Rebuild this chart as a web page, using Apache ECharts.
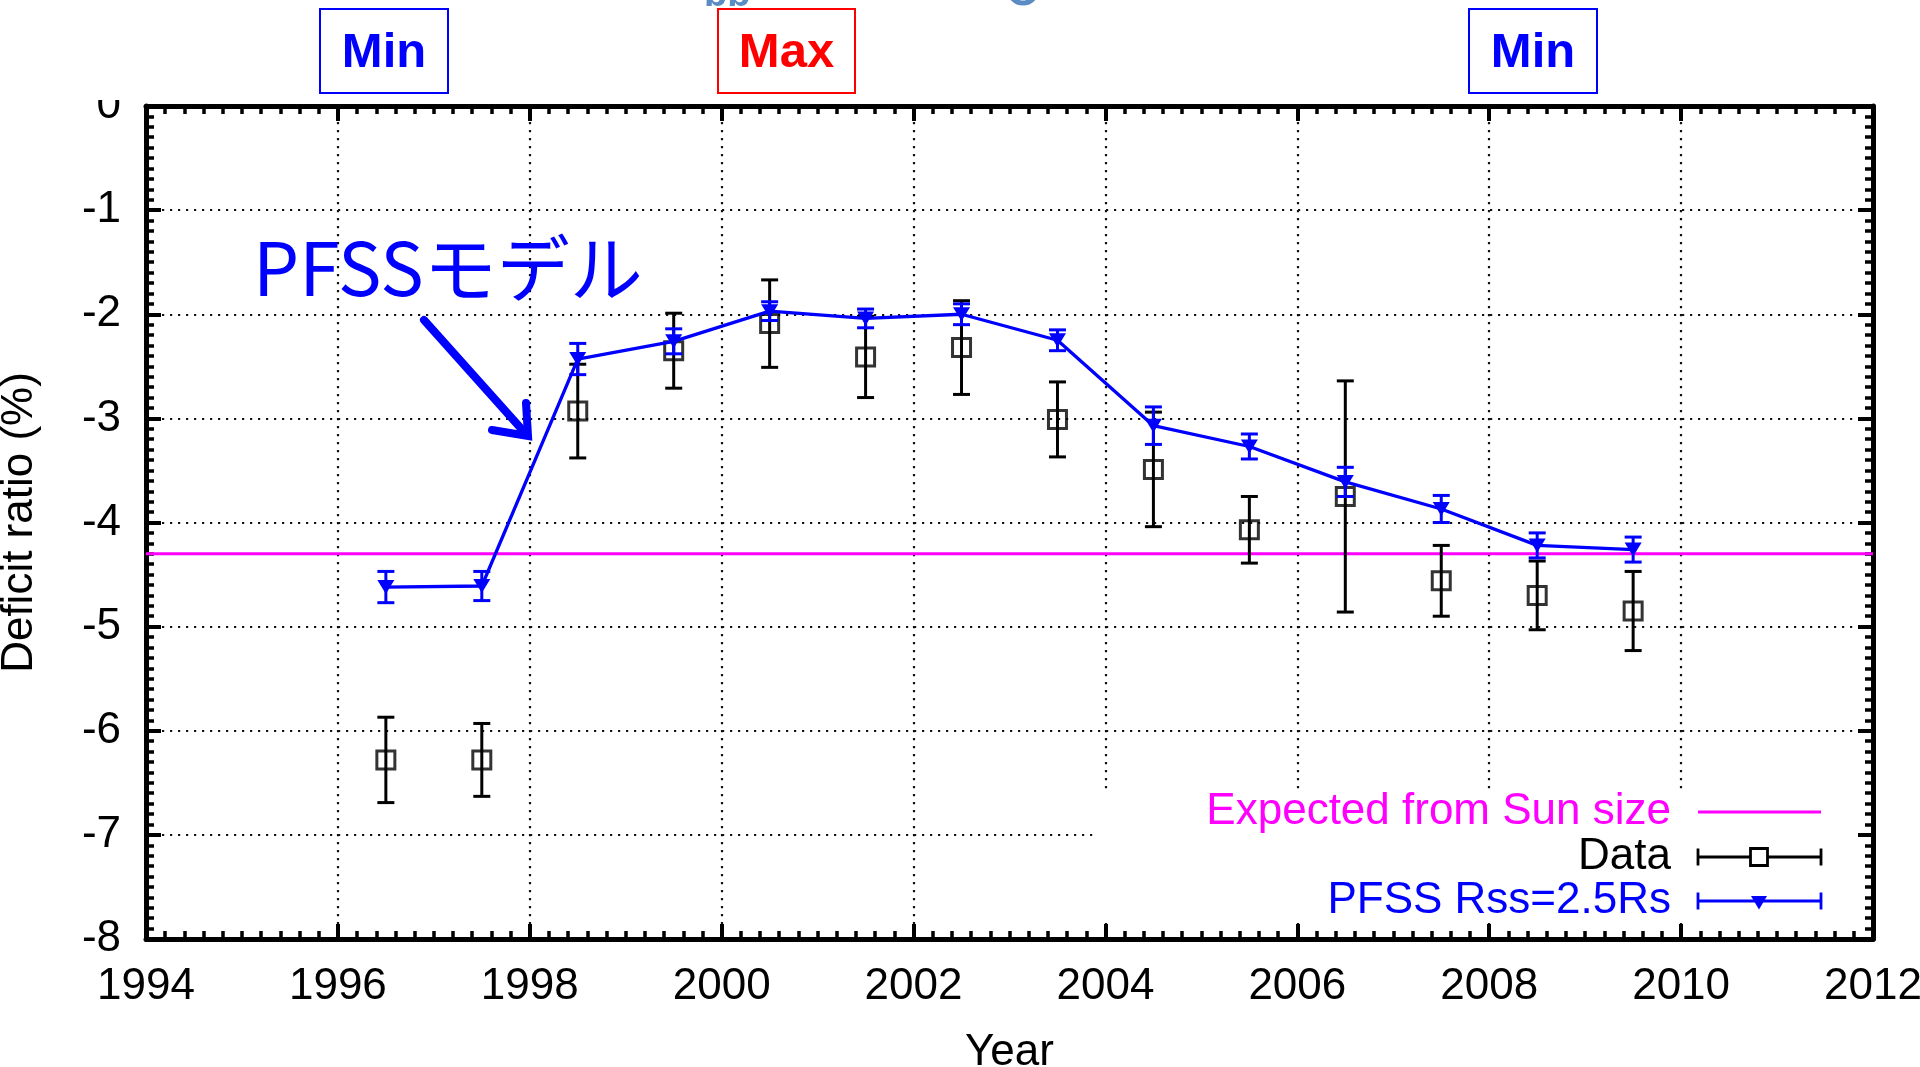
<!DOCTYPE html>
<html>
<head>
<meta charset="utf-8">
<script src="https://cdn.jsdelivr.net/npm/echarts@6/dist/echarts.min.js"></script>
<style>
  html, body { margin: 0; padding: 0; background: #ffffff; }
  #chart { width: 1920px; height: 1067px; }
</style>
</head>
<body>
<div id="chart"></div>
<script>
// Observation years (mid-year bins)
const years = [1996.5, 1997.5, 1998.5, 1999.5, 2000.5, 2001.5, 2002.5,
               2003.5, 2004.5, 2005.5, 2006.5, 2007.5, 2008.5, 2009.5];

// Measured deficit ratio (%) and its 1-sigma error
const dataValues = [-6.28, -6.28, -2.93, -2.35, -2.09, -2.41, -2.32,
                    -3.01, -3.49, -4.07, -3.75, -4.56, -4.70, -4.85];
const dataErrors = [0.41, 0.35, 0.45, 0.36, 0.42, 0.39, 0.45,
                    0.36, 0.55, 0.32, 1.11, 0.34, 0.33, 0.38];

// PFSS model prediction (source surface at 2.5 Rs)
const pfssValues = [-4.62, -4.61, -2.43, -2.26, -1.97, -2.04, -2.00,
                    -2.25, -3.07, -3.27, -3.61, -3.87, -4.22, -4.26];
const pfssErrors = [0.15, 0.14, 0.15, 0.12, 0.09, 0.09, 0.10,
                    0.10, 0.18, 0.12, 0.14, 0.13, 0.12, 0.12];

// Level expected from the geometric size of the Sun
const expectedLevel = -4.3;

// Axis ranges
const yearRange = [1994, 2012];
const ratioRange = [-8, 0];

const BLUE = '#0000ff';
const MAGENTA = '#ff00ff';
const BLACK = '#000000';
const FONT = '"Liberation Sans", Arial, Helvetica, sans-serif';

// Vertical error bar with end caps, placed through the axes
function errorBarRenderer(color, capHalf, width) {
  return function (params, api) {
    const x = api.value(0);
    const lo = api.coord([x, api.value(1)]);
    const hi = api.coord([x, api.value(2)]);
    const style = { stroke: color, lineWidth: width, fill: null };
    return {
      type: 'group',
      children: [
        { type: 'line', shape: { x1: lo[0], y1: lo[1], x2: hi[0], y2: hi[1] }, style: style },
        { type: 'line', shape: { x1: lo[0] - capHalf, y1: lo[1], x2: lo[0] + capHalf, y2: lo[1] }, style: style },
        { type: 'line', shape: { x1: hi[0] - capHalf, y1: hi[1], x2: hi[0] + capHalf, y2: hi[1] }, style: style }
      ]
    };
  };
}

const dataPoints = years.map((y, i) => [y, dataValues[i]]);
const dataBars = years.map((y, i) => [y, dataValues[i] - dataErrors[i], dataValues[i] + dataErrors[i]]);
const pfssPoints = years.map((y, i) => [y, pfssValues[i]]);
const pfssBars = years.map((y, i) => [y, pfssValues[i] - pfssErrors[i], pfssValues[i] + pfssErrors[i]]);

const frameLine = { show: true, onZero: false, lineStyle: { color: BLACK, width: 5 } };
const majorTick = { show: true, inside: true, length: 15, lineStyle: { color: BLACK, width: 4 } };
const minorTick = { show: true, splitNumber: 10, length: 8, lineStyle: { color: BLACK, width: 3.5 } };
const gridDots = { show: true, lineStyle: { color: '#111111', width: 2.2, type: [2.2, 5.8] } };

const chart = echarts.init(document.getElementById('chart'), null, { renderer: 'canvas' });

// Legend rows: sample drawn to the right of right-aligned text
function legendSample(y, color, marker) {
  const x1 = 1698, x2 = 1821, cap = 8.5;
  const st = { stroke: color, lineWidth: 2.8, fill: null };
  const els = [{ type: 'line', shape: { x1: x1, y1: y, x2: x2, y2: y }, style: st, z: 3 }];
  if (marker) {
    els.push({ type: 'line', shape: { x1: x1, y1: y - cap, x2: x1, y2: y + cap }, style: st, z: 3 });
    els.push({ type: 'line', shape: { x1: x2, y1: y - cap, x2: x2, y2: y + cap }, style: st, z: 3 });
    const cx = 1759;
    if (marker === 'square') {
      els.push({ type: 'rect', shape: { x: cx - 8.5, y: y - 8.5, width: 17, height: 17 },
                 style: { stroke: color, lineWidth: 2.8, fill: '#ffffff' }, z: 4 });
    } else {
      els.push({ type: 'polygon', shape: { points: [[cx - 8, y - 5], [cx + 8, y - 5], [cx, y + 8.5]] },
                 style: { fill: color }, z: 4 });
    }
  }
  return els;
}

function legendText(y, text, color) {
  return { type: 'text', x: 1671, y: y, z: 3,
           style: { text: text, fill: color, font: '44px ' + FONT, align: 'right', verticalAlign: 'middle' } };
}

function cycleBox(cx, w, label, color) {
  return [
    { type: 'rect', shape: { x: cx - w / 2, y: 9, width: w, height: 84 },
      style: { fill: '#ffffff', stroke: color, lineWidth: 2 }, z: 11 },
    { type: 'text', x: cx, y: 53, z: 12,
      style: { text: label, fill: color, font: 'bold 49px ' + FONT, align: 'center', verticalAlign: 'middle' } }
  ];
}

const graphics = [].concat(
  // white strip above the frame
  [{ type: 'rect', shape: { x: 0, y: 0, width: 1920, height: 100 }, style: { fill: '#ffffff' }, z: 10 }],
  // fragments of slide text cut off at the top edge
  [{ type: 'text', x: 704, y: 15, z: 11,
     style: { text: 'bb', fill: '#5b8cc4', font: 'bold 38px ' + FONT, align: 'left', verticalAlign: 'bottom' } },
   { type: 'circle', shape: { cx: 1023, cy: -11, r: 14 }, style: { fill: null, stroke: '#5b8cc4', lineWidth: 5 }, z: 11 }],
  cycleBox(384, 128, 'Min', BLUE),
  cycleBox(786.5, 137, 'Max', '#ff0000'),
  cycleBox(1533, 128, 'Min', BLUE),
  // key background
  [{ type: 'rect', shape: { x: 1093, y: 790, width: 764, height: 133 }, style: { fill: '#ffffff' }, z: 1 }],
  [legendText(812, 'Expected from Sun size', MAGENTA),
   legendText(857, 'Data', BLACK),
   legendText(901, 'PFSS Rss=2.5Rs', BLUE)],
  legendSample(812, MAGENTA, null),
  legendSample(857, BLACK, 'square'),
  legendSample(901, BLUE, 'triangle'),
  // model annotation with arrow
  [{ type: 'text', x: 253, y: 268, z: 5,
     style: { text: 'PFSSモデル', fill: BLUE, font: '73px "Noto Sans CJK JP", sans-serif', align: 'left', verticalAlign: 'middle' } },
   { type: 'line', shape: { x1: 424, y1: 320, x2: 526, y2: 434 }, style: { stroke: BLUE, lineWidth: 8, lineCap: 'round' }, z: 5 },
   { type: 'polyline', shape: { points: [[492, 430], [528, 436], [526, 403]] },
     style: { stroke: BLUE, lineWidth: 8, lineCap: 'round', lineJoin: 'miter', fill: null }, z: 5 }]
);

const option = {
  animation: false,
  backgroundColor: '#ffffff',
  textStyle: { fontFamily: FONT },
  grid: { left: 146, right: 47, top: 106, bottom: 128, containLabel: false, outerBoundsMode: 'none' },
  xAxis: [
    {
      type: 'value', position: 'bottom', min: yearRange[0], max: yearRange[1], interval: 2,
      axisLine: frameLine, axisTick: majorTick, minorTick: minorTick, splitLine: gridDots,
      axisLabel: { show: true, color: BLACK, fontSize: 44, fontFamily: FONT, margin: 26,
                   formatter: (v) => String(v) },
      name: 'Year', nameLocation: 'middle', nameGap: 92,
      nameTextStyle: { color: BLACK, fontSize: 44, fontFamily: FONT }
    },
    {
      type: 'value', position: 'top', min: yearRange[0], max: yearRange[1], interval: 2,
      axisLine: frameLine, axisTick: majorTick, minorTick: minorTick,
      splitLine: { show: false }, axisLabel: { show: false }
    }
  ],
  yAxis: [
    {
      type: 'value', position: 'left', min: ratioRange[0], max: ratioRange[1], interval: 1,
      axisLine: frameLine, axisTick: majorTick, minorTick: minorTick, splitLine: gridDots,
      axisLabel: { show: true, color: BLACK, fontSize: 44, fontFamily: FONT, margin: 25,
                   formatter: (v) => String(v) },
      name: 'Deficit ratio (%)', nameLocation: 'middle', nameGap: 104, nameRotate: 90,
      nameTextStyle: { color: BLACK, fontSize: 44, fontFamily: FONT }
    },
    {
      type: 'value', position: 'right', min: ratioRange[0], max: ratioRange[1], interval: 1,
      axisLine: frameLine, axisTick: majorTick, minorTick: minorTick,
      splitLine: { show: false }, axisLabel: { show: false }
    }
  ],
  series: [
    {
      name: 'Expected from Sun size', type: 'line', xAxisIndex: 0, yAxisIndex: 0,
      data: [[yearRange[0], expectedLevel], [yearRange[1], expectedLevel]],
      symbol: 'none', lineStyle: { color: MAGENTA, width: 2.8 }, z: 2, silent: true
    },
    {
      name: 'Data errors', type: 'custom', xAxisIndex: 0, yAxisIndex: 0,
      data: dataBars, renderItem: errorBarRenderer(BLACK, 8.5, 3), z: 3, silent: true
    },
    {
      name: 'Data', type: 'scatter', xAxisIndex: 0, yAxisIndex: 0,
      data: dataPoints, symbol: 'rect', symbolSize: 18,
      itemStyle: { color: 'rgba(0,0,0,0)', borderColor: BLACK, borderWidth: 3 }, z: 4, silent: true
    },
    {
      name: 'PFSS errors', type: 'custom', xAxisIndex: 0, yAxisIndex: 0,
      data: pfssBars, renderItem: errorBarRenderer(BLUE, 8.5, 3), z: 5, silent: true
    },
    {
      name: 'PFSS Rss=2.5Rs', type: 'line', xAxisIndex: 0, yAxisIndex: 0,
      data: pfssPoints, symbol: 'triangle', symbolRotate: 180, symbolSize: [17, 14], showSymbol: true,
      itemStyle: { color: BLUE }, lineStyle: { color: BLUE, width: 3.3 }, z: 6, silent: true
    }
  ],
  graphic: { elements: graphics }
};

chart.setOption(option);
</script>
</body>
</html>
